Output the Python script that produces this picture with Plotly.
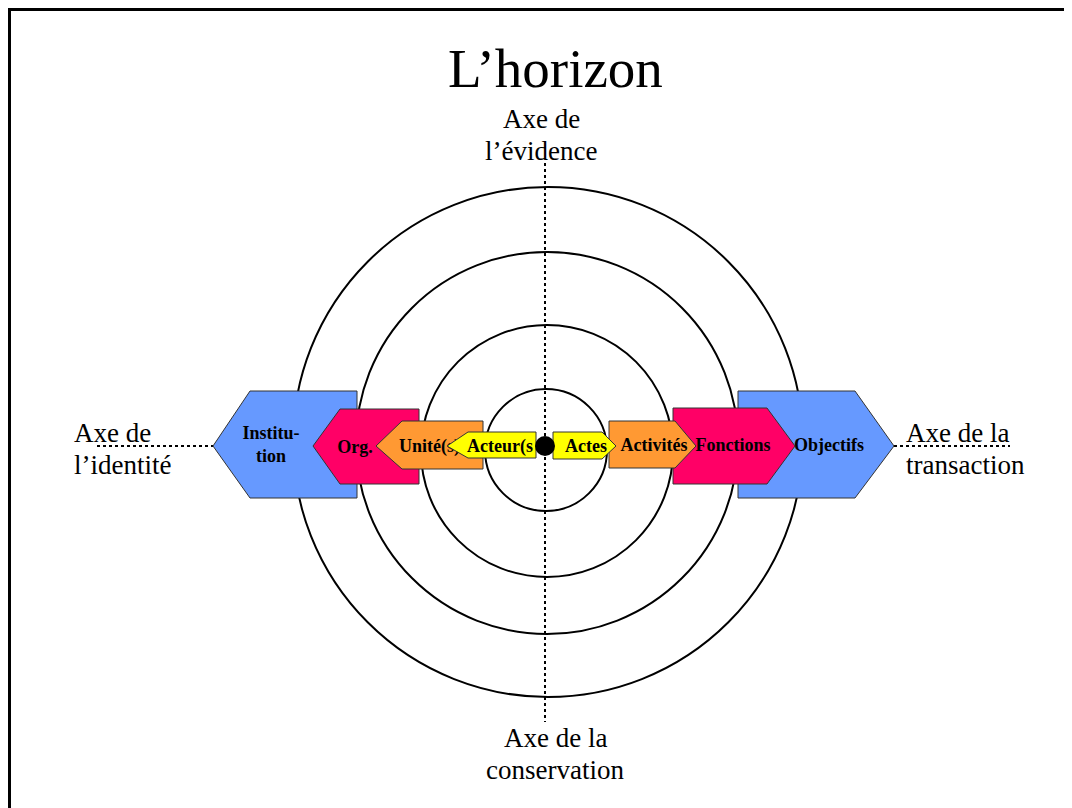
import plotly.graph_objects as go

# labels (outer -> inner)
left_labels = ["Institu-<br>tion", "Org.", "Unité(s)", "Acteur(s"]
right_labels = ["Objectifs", "Fonctions", "Activités", "Actes"]
fill_colors = ["#6699FF", "#FF0066", "#FF9933", "#FFFF00"]

title_text = "L’horizon"
axis_top = ["Axe de", "l’évidence"]
axis_bottom = ["Axe de la", "conservation"]
axis_left = ["Axe de", "l’identité"]
axis_right = ["Axe de la", "transaction"]

W, H = 1072, 808
OFF = 8  # page body margin in the browser
CY = 446
FONT = "Liberation Serif, Times New Roman, serif"

# geometry of the arrow shapes (pixels): tip, shoulder, flat side, top, bottom
left_geom = [
    (213, 250, 357, 391, 498),
    (313, 340, 419, 409, 484),
    (376, 402, 483, 421, 469),
    (447, 468, 536, 432, 458),
]
right_geom = [
    (894, 855, 738, 391, 498),
    (795, 767, 673, 408, 484),
    (696, 675, 609, 421, 468),
    (616, 602, 553, 432, 459),
]
left_text_pos = [(271, 446, "middle center"), (355, 448, "middle center"),
                 (399, 447, "middle right"), (467, 447, "middle right")]
right_text_pos = [(829, 446, "middle center"), (733, 446, "middle center"),
                  (654, 446, "middle center"), (586, 447, "middle center")]

rings = [(546, 450, 61), (547, 451, 126), (547, 443, 191), (548, 442, 255)]

fig = go.Figure()

# dotted axes
dot_line = dict(color="black", width=2, dash="dot")
fig.add_trace(go.Scatter(x=[545, 545], y=[163, 722], mode="lines", line=dot_line))
fig.add_trace(go.Scatter(x=[97, 213], y=[CY, CY], mode="lines", line=dot_line))
fig.add_trace(go.Scatter(x=[894, 1010], y=[CY, CY], mode="lines", line=dot_line))


def arrow(g):
    tip, sh, flat, top, bot = g
    xs = [tip, sh, flat, flat, sh, tip]
    ys = [CY, top, top, bot, bot, CY]
    return xs, ys


for i in range(4):
    for labels, geom, tpos in ((left_labels, left_geom, left_text_pos),
                               (right_labels, right_geom, right_text_pos)):
        xs, ys = arrow(geom[i])
        fig.add_trace(go.Scatter(
            x=xs, y=ys, mode="lines", fill="toself",
            fillcolor=fill_colors[i],
            line=dict(color="#333333", width=1),
        ))
        tx, ty, pos = tpos[i]
        fig.add_trace(go.Scatter(
            x=[tx], y=[ty], mode="text", text=[labels[i]],
            textposition=pos,
            textfont=dict(family=FONT, size=18, color="black", weight="bold"),
        ))

# centre dot
fig.add_trace(go.Scatter(x=[545], y=[CY], mode="markers",
                         marker=dict(color="black", size=20)))

shapes = []
for cx, cy, r in rings:
    shapes.append(dict(type="circle", xref="x", yref="y", layer="below",
                       x0=cx - r, x1=cx + r, y0=cy - r, y1=cy + r,
                       line=dict(color="black", width=2)))
shapes.append(dict(type="rect", xref="x", yref="y", x0=9.5, y0=9.5, x1=W + 30, y1=H + 30,
                   line=dict(color="black", width=3)))

axis_font = dict(family=FONT, size=27, color="black")
annotations = [
    dict(x=555, y=68, text=title_text, showarrow=False,
         font=dict(family=FONT, size=55, color="black")),
]
for lines, x, ys, anchor in ((axis_top, 541, (119, 151), "center"),
                             (axis_bottom, 555, (738, 770), "center"),
                             (axis_left, 72, (433, 465), "left"),
                             (axis_right, 904, (433, 465), "left")):
    for line, y in zip(lines, ys):
        annotations.append(dict(x=x, y=y, text=line, showarrow=False,
                                xanchor=anchor, font=axis_font))

fig.update_layout(
    width=W, height=H,
    margin=dict(l=0, r=0, t=0, b=0),
    paper_bgcolor="white", plot_bgcolor="white",
    showlegend=False,
    shapes=shapes,
    annotations=annotations,
    xaxis=dict(range=[OFF, W + OFF], visible=False, fixedrange=True),
    yaxis=dict(range=[H + OFF, OFF], visible=False, fixedrange=True),
)

fig.write_html("out.html")
